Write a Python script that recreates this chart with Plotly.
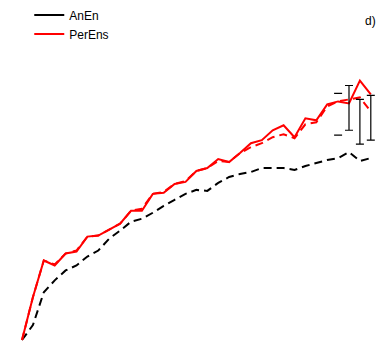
import plotly.graph_objects as go

# Lead-time index (one point per step)
lead = list(range(33))

# AnEn curve (dashed black)
anen = [0.01, 0.16, 0.49, 0.61, 0.71, 0.76, 0.85, 0.91, 1.03, 1.11,
        1.20, 1.23, 1.29, 1.36, 1.42, 1.48, 1.52, 1.51, 1.59, 1.65,
        1.68, 1.70, 1.74, 1.74, 1.74, 1.72, 1.76, 1.79, 1.82, 1.84,
        1.90, 1.81, 1.84]

# PerEns curve (solid red)
perens = [0.01, 0.44, 0.81, 0.76, 0.88, 0.90, 1.05, 1.06, 1.12, 1.18,
          1.31, 1.31, 1.48, 1.49, 1.58, 1.60, 1.71, 1.74, 1.83, 1.80,
          1.89, 1.99, 2.02, 2.12, 2.17, 2.05, 2.24, 2.22, 2.38, 2.41,
          2.39, 2.62, 2.48]

# PerEns companion curve (dashed red)
perens_b = [0.01, 0.44, 0.81, 0.77, 0.88, 0.91, 1.05, 1.06, 1.12, 1.18,
            1.31, 1.33, 1.48, 1.50, 1.58, 1.61, 1.71, 1.74, 1.81, 1.80,
            1.89, 1.95, 1.99, 2.05, 2.08, 2.04, 2.18, 2.20, 2.36, 2.41,
            2.43, 2.45, 2.31]

# Uncertainty intervals at the last lead times
bar_lead = [30, 31, 32]
bar_lo = [2.12, 1.98, 2.02]
bar_hi = [2.57, 2.43, 2.47]

# Interval drawn with end caps only
cap_lead = [29, 29]
cap_val = [2.07, 2.49]

fig = go.Figure()

fig.add_trace(go.Scatter(
    x=lead, y=anen, mode="lines", showlegend=False,
    line=dict(color="black", width=2, dash="8px,5px")))
fig.add_trace(go.Scatter(
    x=lead, y=perens_b, mode="lines", showlegend=False,
    line=dict(color="#ff0000", width=2, dash="8px,5px")))
fig.add_trace(go.Scatter(
    x=lead, y=perens, mode="lines", showlegend=False,
    line=dict(color="#ff0000", width=2)))

fig.add_trace(go.Scatter(
    x=bar_lead, y=bar_lo, mode="markers", showlegend=False,
    marker=dict(size=1, opacity=0),
    error_y=dict(type="data", symmetric=False,
                 array=[h - l for h, l in zip(bar_hi, bar_lo)],
                 arrayminus=[0] * len(bar_lo),
                 color="black", thickness=1.2, width=4)))
fig.add_trace(go.Scatter(
    x=cap_lead, y=cap_val, mode="markers", showlegend=False,
    marker=dict(size=1, opacity=0),
    error_y=dict(type="data", array=[0, 0],
                 color="black", thickness=1.2, width=4)))

# Legend entries
fig.add_trace(go.Scatter(x=[None], y=[None], mode="lines", name="AnEn",
                         line=dict(color="black", width=2)))
fig.add_trace(go.Scatter(x=[None], y=[None], mode="lines", name="PerEns",
                         line=dict(color="#ff0000", width=2)))

fig.add_annotation(text="d)", xref="paper", yref="paper", x=0.995, y=0.945,
                   xanchor="right", yanchor="middle", showarrow=False,
                   font=dict(family="Liberation Sans, Arial", size=12, color="black"))

fig.update_layout(
    width=380, height=341, autosize=False,
    margin=dict(l=0, r=0, t=0, b=0),
    paper_bgcolor="white", plot_bgcolor="white",
    font=dict(family="Liberation Sans, Arial", size=12, color="black"),
    legend=dict(x=0.077, y=1.0045, xanchor="left", yanchor="top",
                bgcolor="rgba(0,0,0,0)", borderwidth=0,
                font=dict(size=12), tracegroupgap=0),
    xaxis=dict(range=[-22 / 10.9, 358 / 10.9], visible=False,
               showgrid=False, zeroline=False),
    yaxis=dict(range=[0, 3.41], visible=False,
               showgrid=False, zeroline=False),
)

fig.write_html("out.html")
